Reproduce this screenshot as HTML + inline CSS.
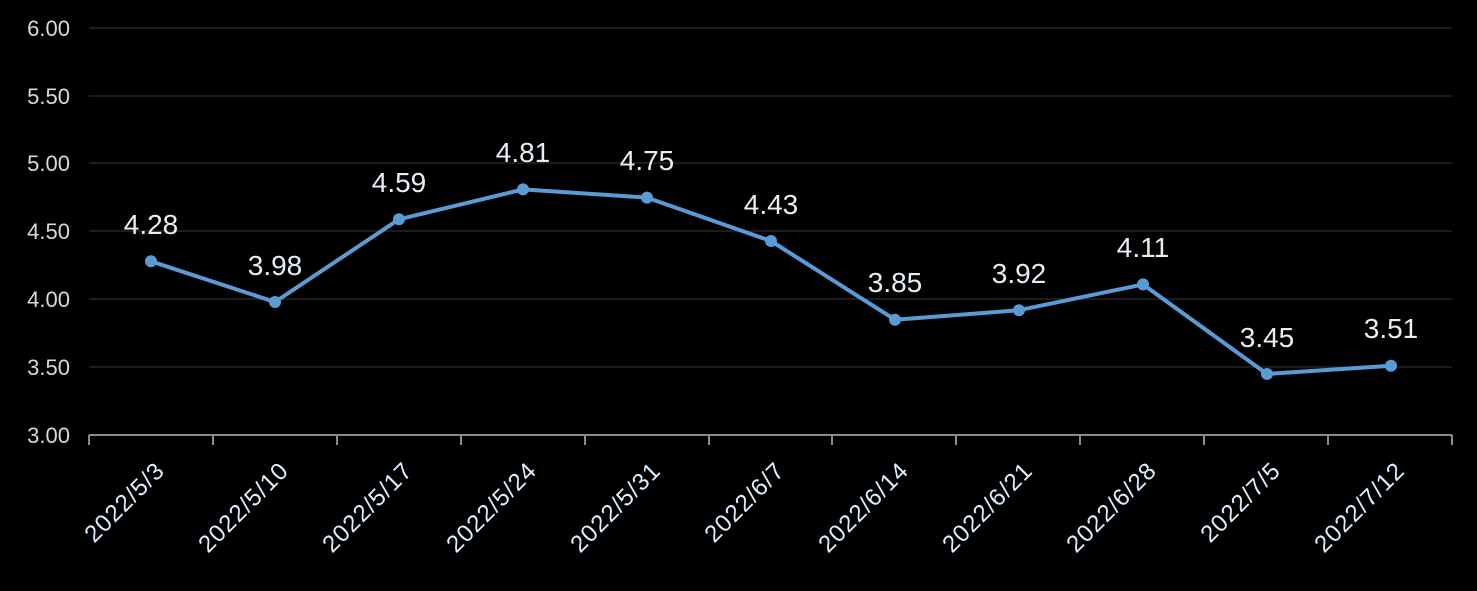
<!DOCTYPE html>
<html><head><meta charset="utf-8"><style>
html,body{margin:0;padding:0;background:#000;}
svg{display:block;font-family:"Liberation Sans","DejaVu Sans",sans-serif;}
</style></head><body>
<svg width="1477" height="591" viewBox="0 0 1477 591" xmlns="http://www.w3.org/2000/svg">
<rect width="1477" height="591" fill="#000"/>
<g stroke="#262626" stroke-width="1.5">
<line x1="89" x2="1452" y1="28" y2="28"/>
<line x1="89" x2="1452" y1="96" y2="96"/>
<line x1="89" x2="1452" y1="163" y2="163"/>
<line x1="89" x2="1452" y1="231" y2="231"/>
<line x1="89" x2="1452" y1="299" y2="299"/>
<line x1="89" x2="1452" y1="367" y2="367"/>
</g>
<g stroke="#8c8c8c" stroke-width="2">
<line x1="89" x2="1452" y1="435" y2="435"/>
<line x1="89" x2="89" y1="435" y2="445"/><line x1="213" x2="213" y1="435" y2="445"/><line x1="337" x2="337" y1="435" y2="445"/><line x1="461" x2="461" y1="435" y2="445"/><line x1="585" x2="585" y1="435" y2="445"/><line x1="709" x2="709" y1="435" y2="445"/><line x1="832" x2="832" y1="435" y2="445"/><line x1="956" x2="956" y1="435" y2="445"/><line x1="1080" x2="1080" y1="435" y2="445"/><line x1="1204" x2="1204" y1="435" y2="445"/><line x1="1328" x2="1328" y1="435" y2="445"/><line x1="1452" x2="1452" y1="435" y2="445"/>
</g>
<g fill="#d9d9d9" font-size="22" text-anchor="end">
<text x="70" y="36">6.00</text><text x="70" y="104">5.50</text><text x="70" y="171">5.00</text><text x="70" y="239">4.50</text><text x="70" y="307">4.00</text><text x="70" y="375">3.50</text><text x="70" y="443">3.00</text>
</g>
<g fill="#ddeeff" font-size="24" text-anchor="end" letter-spacing="1">
<text transform="translate(166,472) rotate(-45)">2022/5/3</text>
<text transform="translate(290,472) rotate(-45)">2022/5/10</text>
<text transform="translate(414,472) rotate(-45)">2022/5/17</text>
<text transform="translate(538,472) rotate(-45)">2022/5/24</text>
<text transform="translate(662,472) rotate(-45)">2022/5/31</text>
<text transform="translate(786,472) rotate(-45)">2022/6/7</text>
<text transform="translate(910,472) rotate(-45)">2022/6/14</text>
<text transform="translate(1034,472) rotate(-45)">2022/6/21</text>
<text transform="translate(1158,472) rotate(-45)">2022/6/28</text>
<text transform="translate(1282,472) rotate(-45)">2022/7/5</text>
<text transform="translate(1406,472) rotate(-45)">2022/7/12</text>
</g>
<polyline fill="none" stroke="#5b9bd5" stroke-width="4" stroke-linejoin="round" points="151,261.3 275,302 399,219.3 523,189.4 647,197.6 771,241 895,319.7 1019,310.2 1143,284.4 1267,374 1391,365.8"/>
<g fill="#5b9bd5">
<circle cx="151" cy="261.3" r="6"/><circle cx="275" cy="302" r="6"/><circle cx="399" cy="219.3" r="6"/><circle cx="523" cy="189.4" r="6"/><circle cx="647" cy="197.6" r="6"/><circle cx="771" cy="241" r="6"/><circle cx="895" cy="319.7" r="6"/><circle cx="1019" cy="310.2" r="6"/><circle cx="1143" cy="284.4" r="6"/><circle cx="1267" cy="374" r="6"/><circle cx="1391" cy="365.8" r="6"/>
</g>
<g fill="#e8eef5" font-size="28" text-anchor="middle">
<text x="151" y="234">4.28</text><text x="275" y="275">3.98</text><text x="399" y="192">4.59</text><text x="523" y="162">4.81</text><text x="647" y="170">4.75</text><text x="771" y="214">4.43</text><text x="895" y="292">3.85</text><text x="1019" y="283">3.92</text><text x="1143" y="257">4.11</text><text x="1267" y="347">3.45</text><text x="1391" y="338">3.51</text>
</g>
</svg>
</body></html>
